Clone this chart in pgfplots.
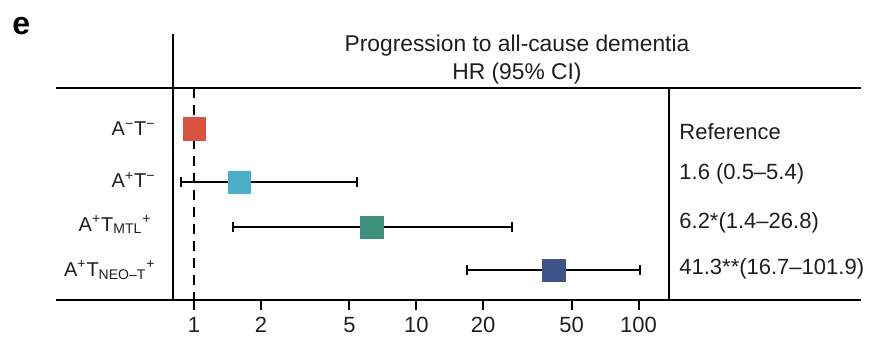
\documentclass[border=0pt]{standalone}
\usepackage{pgfplots}
\pgfplotsset{compat=1.18}
\usepackage{fontspec}
\setmainfont{Liberation Sans}
\definecolor{cred}{RGB}{217,84,64}
\definecolor{cblue}{RGB}{75,175,201}
\definecolor{cgreen}{RGB}{62,143,123}
\definecolor{cnavy}{RGB}{61,84,137}
\definecolor{txt}{RGB}{30,30,30}
\newcommand{\fs}{\fontsize{10}{12}\selectfont}
\newcommand{\fr}{\fontsize{11}{13}\selectfont}
\newcommand{\ft}{\fontsize{11.4}{13}\selectfont}
\begin{document}
\begin{tikzpicture}
\begin{axis}[
  at={(86.5pt,-150pt)}, anchor=south west,
  scale only axis, width=248pt, height=106pt,
  xmode=log, xmin=0.804, xmax=137.1,
  ymin=88, ymax=300, y dir=reverse,
  axis line style={draw=none},
  ytick=\empty,
  xtick={1,2,5,10,20,50,100},
  xticklabels={1,2,5,10,20,50,100},
  xtick pos=bottom, tick align=outside,
  major tick length=5pt,
  minor tick style={draw=none},
  every major tick/.style={black, line width=1pt},
  xticklabel style={font=\fr, text=txt},
  clip=false,
]
\addplot[black, line width=1pt, dash pattern=on 5pt off 3.5pt] coordinates {(1,88) (1,300)};
\addplot[black, line width=1pt, mark=|, mark size=2.5pt, mark options={solid}] coordinates {(0.87,182) (5.4,182)};
\addplot[black, line width=1pt, mark=|, mark size=2.5pt, mark options={solid}] coordinates {(1.5,227) (27.0,227)};
\addplot[black, line width=1pt, mark=|, mark size=2.5pt, mark options={solid}] coordinates {(16.9,270) (101.5,270)};
\addplot[cred, only marks, mark=square*, mark size=5.6pt, mark options={line width=0.2pt, fill=cred}] coordinates {(1,128.5)};
\addplot[cblue, only marks, mark=square*, mark size=5.6pt, mark options={line width=0.2pt, fill=cblue}] coordinates {(1.6,182)};
\addplot[cgreen, only marks, mark=square*, mark size=5.6pt, mark options={line width=0.2pt, fill=cgreen}] coordinates {(6.3,227)};
\addplot[cnavy, only marks, mark=square*, mark size=5.6pt, mark options={line width=0.2pt, fill=cnavy}] coordinates {(41.5,270)};
\end{axis}
\begin{scope}[x=0.5pt,y=-0.5pt]
\useasboundingbox (0,0) rectangle (871,347);
% frame
\draw[line width=1pt] (56,88) -- (861,88);
\draw[line width=1pt] (56,300) -- (861,300);
\draw[line width=1pt] (173,34) -- (173,300);
\draw[line width=1pt] (669,88) -- (669,300);
% panel letter
\node[anchor=base west, inner sep=0pt, font=\fontsize{16}{18}\selectfont\bfseries] at (12,35) {e};
% title
\node[anchor=base, inner sep=0pt, font=\ft, text=txt] at (517,52) {Progression to all-cause dementia};
\node[anchor=base, inner sep=0pt, font=\ft, text=txt] at (517,80) {HR (95\% CI)};
% row labels
\node[anchor=base east, inner sep=0pt, font=\fs, text=txt] at (156,136) {A\textsuperscript{−}T\textsuperscript{−}};
\node[anchor=base east, inner sep=0pt, font=\fs, text=txt] at (156,188) {A\textsuperscript{+}T\textsuperscript{−}};
\node[anchor=base east, inner sep=0pt, font=\fs, text=txt] at (152,231) {A\textsuperscript{+}T\textsubscript{MTL}\textsuperscript{+}};
\node[anchor=base east, inner sep=0pt, font=\fs, text=txt] at (156,276) {A\textsuperscript{+}T\textsubscript{NEO–T}\textsuperscript{+}};
% right labels
\node[anchor=base west, inner sep=0pt, font=\fr, text=txt] at (679,140) {Reference};
\node[anchor=base west, inner sep=0pt, font=\fr, text=txt] at (679,180) {1.6 (0.5–5.4)};
\node[anchor=base west, inner sep=0pt, font=\fr, text=txt] at (679,228) {6.2*(1.4–26.8)};
\node[anchor=base west, inner sep=0pt, font=\fr, text=txt] at (679,274) {41.3**(16.7–101.9)};
\end{scope}
\end{tikzpicture}
\end{document}
